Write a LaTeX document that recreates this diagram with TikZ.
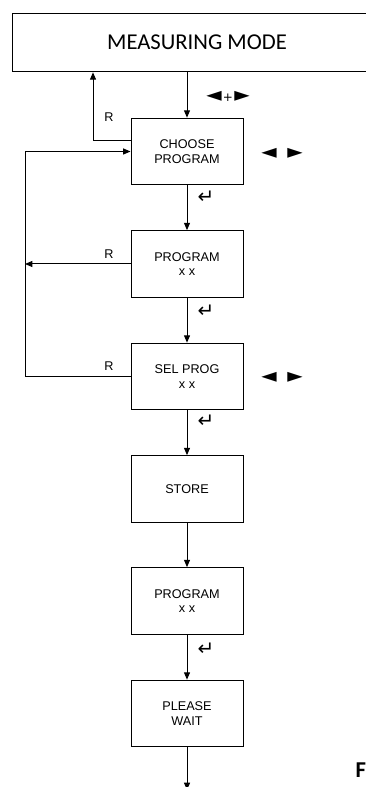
\documentclass[tikz,border=0pt]{standalone}
\usepackage{fontspec}
\setmainfont{Liberation Sans}
\newfontfamily\titlefont{Carlito}
\newfontfamily\symfont{DejaVu Sans}
\usetikzlibrary{arrows.meta}

\begin{document}
\begin{tikzpicture}[x=0.75pt,y=-0.75pt,line width=0.75pt,
        box/.style={draw,minimum width=84pt,minimum height=50pt,inner sep=0pt,align=center,font=\fontsize{9.5}{11}\selectfont},
        arr/.style={-{Triangle[length=5.5pt,width=4.5pt]}},
        lbl/.style={font=\fontsize{9.5}{11}\selectfont,inner sep=0pt},
        sym/.style={font=\symfont\fontsize{15}{16}\selectfont,inner sep=0pt}]
        \useasboundingbox (0,0) rectangle (366,787);
        \node[draw,minimum width=277.5pt,minimum height=44pt,inner sep=0pt,font=\titlefont\fontsize{17}{20}\selectfont] (top) at (197,42.5) {MEASURING MODE};
        \node[box] (choose) at (187,151.5) {CHOOSE\\PROGRAM};
        \node[box] (prog) at (187,264) {PROGRAM\\x x};
        \node[box] (sel) at (187,376.5) {SEL PROG\\x x};
        \node[box] (store) at (187,489) {STORE};
        \node[box] (prog2) at (187,601) {PROGRAM\\x x};
        \node[box] (wait) at (187,713.5) {PLEASE\\WAIT};
        \coordinate (rx) at (93,0);
        \coordinate (loop) at (25,0);
        \coordinate (out) at (187,790);
        % main path
        \draw[arr] (choose.north |- top.south) -- (choose.north);
        \draw[arr] (choose) -- (prog);
        \draw[arr] (prog) -- (sel);
        \draw[arr] (sel) -- (store);
        \draw[arr] (store) -- (prog2);
        \draw[arr] (prog2) -- (wait);
        \draw[arr] (wait) -- (out);
        % returns
        \draw[arr] ([yshift=8.6pt]choose.west) -| (top.south -| rx);
        \draw[arr] (sel.west) -| (loop |- choose.west) -- (choose.west);
        \draw[arr] (prog.west) -- (loop |- prog.west);
        \node[lbl] (r1) at (109,117) {R};
        \node[lbl] (r2) at (109,254) {R};
        \node[lbl] (r3) at (109,366) {R};
        % keys
        \node[sym] (k0) at (228,96) {◄\hspace{1pt}{\fontsize{9}{10}\selectfont+}\hspace{1pt}►};
        \node[sym] (k1) at (282,153) {◄\hspace{8pt}►};
        \node[sym] (k2) at (282,377) {◄\hspace{8pt}►};
        \node[sym] (e1) at (206,197) {↵};
        \node[sym] (e2) at (206,311) {↵};
        \node[sym] (e3) at (206,421) {↵};
        \node[sym] (e4) at (206,649) {↵};
        \node[anchor=west,inner sep=0pt,font=\titlefont\bfseries\fontsize{17}{20}\selectfont] (fig) at (355,770) {F};
    \end{tikzpicture}
\end{document}
